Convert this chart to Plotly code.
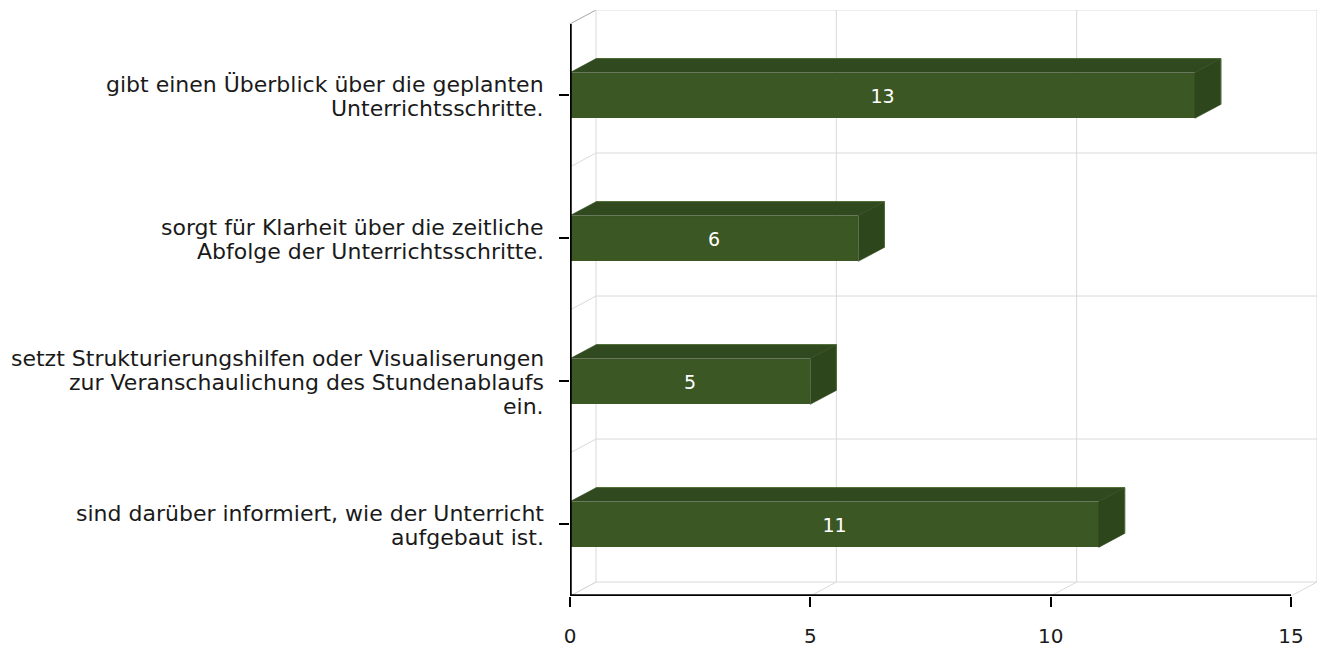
import plotly.graph_objects as go

# ---- data ----
categories = [
    ["sind darüber informiert, wie der Unterricht", "aufgebaut ist."],
    ["setzt Strukturierungshilfen oder Visualiserungen", "zur Veranschaulichung des Stundenablaufs", "ein."],
    ["sorgt für Klarheit über die zeitliche", "Abfolge der Unterrichtsschritte."],
    ["gibt einen Überblick über die geplanten", "Unterrichtsschritte."],
]
values = [11, 5, 6, 13]
x_ticks = [0, 5, 10, 15]

# ---- layout geometry ----
W, H = 1322, 653
ML, MR, MT, MB = 570, 5, 10, 55
DX_PX, DY_PX = 26, 14
plot_w = W - ML - MR
plot_h = H - MT - MB
XMAX = x_ticks[-1]
n = len(categories)
ux = (plot_w - DX_PX) / XMAX
uy = (plot_h - DY_PX) / n
dx = DX_PX / ux
dy = DY_PX / uy
y0, y1 = -0.5, n - 0.5
bw = 0.32
LINE_H = 24
LABEL_SIZE = 22

FRONT = "#3b5724"
TOP = "#30491f"
SIDE = "#2e461c"
EDGE = "#4a6a2e"
GRID = "#d9d9d9"
FONT = "DejaVu Sans"
TEXT = "#1a1a1a"

fig = go.Figure()
shapes = []

def gline(xa, ya, xb, yb, color=GRID, width=1):
    shapes.append(dict(type="line", xref="x", yref="y", x0=xa, y0=ya, x1=xb, y1=yb,
                       line=dict(color=color, width=width), layer="below"))

# back wall horizontal grid lines + left wall diagonals
for k in range(n + 1):
    b = y0 + k
    gline(dx, b + dy, XMAX + dx, b + dy)
    gline(0, b, dx, b + dy, color="#a6a6a6" if k == n else GRID)
# back wall vertical grid lines + floor diagonals
for t in x_ticks:
    gline(t + dx, y0 + dy, t + dx, y1 + dy)
    gline(t, y0, t + dx, y0 + dy)

# bars: front face
ypos = list(range(n))
fig.add_trace(go.Bar(
    x=values, y=ypos, orientation="h", width=bw, base=0,
    marker=dict(color=FRONT, line=dict(width=0)),
    text=[str(v) for v in values], textposition="inside", insidetextanchor="middle",
    textfont=dict(color="white", size=19, family=FONT), textangle=0,
    hoverinfo="skip", showlegend=False,
))

# bars: top and side faces
for c, v in zip(ypos, values):
    top = c + bw / 2
    bot = c - bw / 2
    fig.add_trace(go.Scatter(
        x=[0, dx, v + dx, v, 0], y=[top, top + dy, top + dy, top, top],
        fill="toself", fillcolor=TOP, mode="lines", line=dict(color=TOP, width=0.5),
        hoverinfo="skip", showlegend=False))
    fig.add_trace(go.Scatter(
        x=[v, v + dx, v + dx, v, v], y=[top, top + dy, bot + dy, bot, top],
        fill="toself", fillcolor=SIDE, mode="lines", line=dict(color=SIDE, width=0.5),
        hoverinfo="skip", showlegend=False))
    # light edge along the top-back of each bar
    fig.add_trace(go.Scatter(
        x=[dx, v + dx, v + dx], y=[top + dy, top + dy, bot + dy], mode="lines",
        line=dict(color=EDGE, width=1), hoverinfo="skip", showlegend=False))

# front axes lines (half of width is clipped at plot edge)
fig.add_trace(go.Scatter(x=[0, XMAX], y=[y0, y0], mode="lines", line=dict(color="black", width=3.5),
                         hoverinfo="skip", showlegend=False))
fig.add_trace(go.Scatter(x=[0, 0], y=[y0, y1], mode="lines", line=dict(color="black", width=3.5),
                         hoverinfo="skip", showlegend=False))

# category labels, one annotation per line for tight line spacing
annotations = []
for c, lines in zip(ypos, categories):
    m = len(lines)
    for i, txt in enumerate(lines):
        annotations.append(dict(
            xref="paper", x=0, xanchor="right", xshift=-24,
            yref="y", y=c, yanchor="middle", yshift=((m - 1) / 2 - i) * LINE_H - 1,
            text=txt, showarrow=False, font=dict(size=LABEL_SIZE, family=FONT, color=TEXT),
        ))

fig.update_layout(
    width=W, height=H,
    margin=dict(l=ML, r=MR, t=MT, b=MB),
    plot_bgcolor="white", paper_bgcolor="white",
    font=dict(family=FONT, size=20, color=TEXT),
    bargap=0, shapes=shapes, annotations=annotations,
)
fig.update_xaxes(
    range=[0, XMAX + dx], tickvals=x_ticks, showgrid=False, zeroline=False, showline=False,
    ticks="outside", ticklen=10, tickwidth=1.5, tickcolor="black",
    ticklabelstandoff=12, tickfont=dict(size=20),
)
fig.update_yaxes(
    range=[y0, y1 + dy], tickvals=ypos, ticktext=["" for _ in ypos], showgrid=False, zeroline=False,
    showline=False, ticks="outside", ticklen=10, tickwidth=1.5, tickcolor="black",
)

fig.write_html("out.html", config={"displayModeBar": False},
               post_script="document.body.style.margin='0';")
